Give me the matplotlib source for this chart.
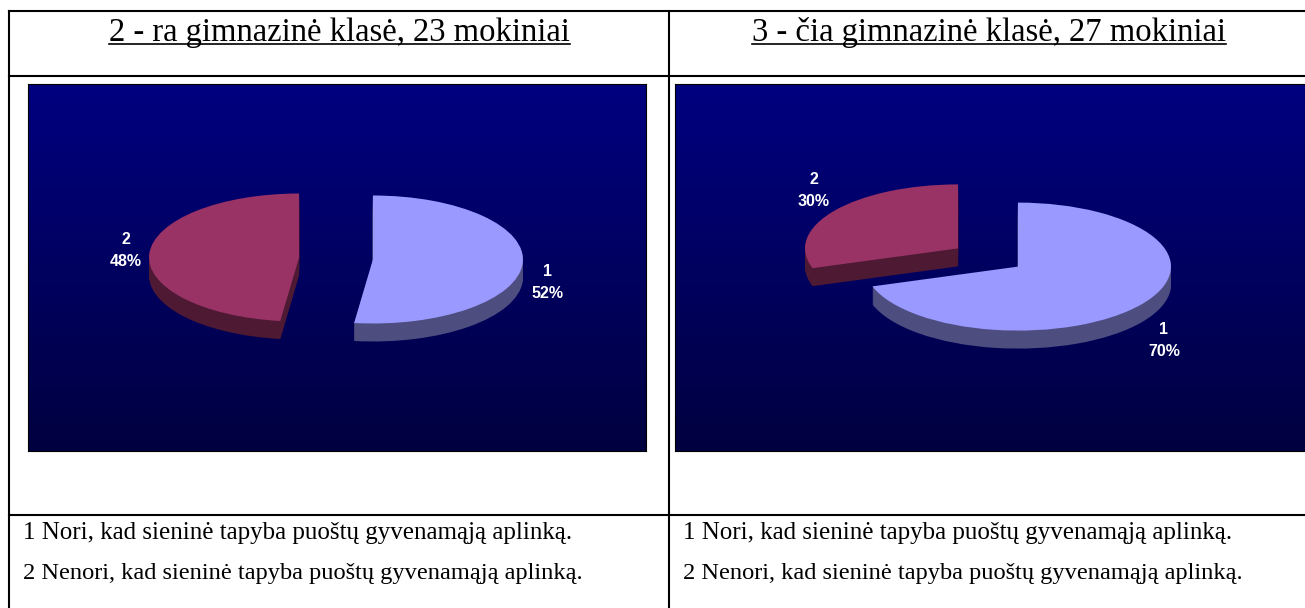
import numpy as np
import matplotlib
matplotlib.use('Agg')
import matplotlib.pyplot as plt

W, H = 1305, 608

titles = ['2 - ra gimnazinė klasė, 23 mokiniai', '3 - čia gimnazinė klasė, 27 mokiniai']
legend_1 = '1 Nori, kad sieninė tapyba puoštų gyvenamąją aplinką.'
legend_2 = '2 Nenori, kad sieninė tapyba puoštų gyvenamąją aplinką.'
categories = ['1', '2']
values_left = [52, 48]
values_right = [70, 30]

top_colors = ['#9999ff', '#993366']
side_colors = ['#4d4d80', '#4d1933']


def draw_pie(box, center, rx, ry, values, explode, label_pos):
    # box is left, top, right, bottom in pixels
    left, top, right, bottom = box
    ax = fig.add_axes([left / W, 1 - bottom / H, (right - left) / W, (bottom - top) / H])

    # extruded side: same pie stacked downwards, one pixel at a time
    for px in range(18, 0, -1):
        ax.pie(values, explode=[explode, explode], startangle=90, counterclock=False,
               colors=side_colors, center=(0, -px / ry))
    ax.pie(values, explode=[explode, explode], startangle=90, counterclock=False,
           colors=top_colors)

    xlim = ((left - center[0]) / rx, (right - center[0]) / rx)
    ylim = ((center[1] - bottom) / ry, (center[1] - top) / ry)
    grad = np.linspace(0, 1, 256).reshape(-1, 1)
    ax.imshow(grad, extent=(xlim[0], xlim[1], ylim[0], ylim[1]), aspect='auto', zorder=0,
              cmap=matplotlib.colors.LinearSegmentedColormap.from_list('bg', ['#000080', '#000040']))
    ax.set_aspect('auto')
    ax.set_xlim(xlim)
    ax.set_ylim(ylim)
    ax.set_frame_on(True)
    for s in ax.spines.values():
        s.set_linewidth(0.8)
        s.set_color('black')

    for name, val, (x, y) in zip(categories, values, label_pos):
        overlay.text(x, y, name, color='white', fontsize=11.5, fontweight='bold',
                     family='Liberation Sans', ha='center', va='center', zorder=10)
        overlay.text(x, y + 22, f'{val}%', color='white', fontsize=11.5, fontweight='bold',
                     family='Liberation Sans', ha='center', va='center', zorder=10)


fig = plt.figure(figsize=(W / 100, H / 100), dpi=100, facecolor='white')

overlay = fig.add_axes([0, 0, 1, 1], zorder=5)
overlay.set_xlim(0, W)
overlay.set_ylim(H, 0)
overlay.axis('off')
overlay.patch.set_alpha(0)

# table lines
lw = 1.5
overlay.plot([9, W], [11, 11], color='black', lw=lw)
overlay.plot([9, W], [76, 76], color='black', lw=lw)
overlay.plot([9, W], [515, 515], color='black', lw=lw)
overlay.plot([9, 9], [11, H], color='black', lw=lw)
overlay.plot([669, 669], [11, H], color='black', lw=lw)

# column headers
for title, xc, x0, x1 in zip(titles, [339.5, 989], [109, 752], [570, 1226]):
    overlay.text(xc, 33, title, fontsize=23.5, family='Liberation Serif', ha='center', va='center')
    overlay.plot([x0, x1], [44, 44], color='black', lw=1.2)

# legend rows under each chart
for x in [23, 683]:
    overlay.text(x, 533, legend_1, fontsize=18, family='Liberation Serif', ha='left', va='center')
    overlay.text(x, 574, legend_2, fontsize=17.6, family='Liberation Serif', ha='left', va='center')

draw_pie((28, 84, 646, 451), (336, 258.5), 150, 64, values_left, 0.2467,
         [(547, 271), (126, 239)])
draw_pie((675, 84, 1305, 451), (988, 257.5), 153, 64, values_right, 0.242,
         [(1164, 330), (814, 180)])

fig.savefig('out.png', dpi=100)
